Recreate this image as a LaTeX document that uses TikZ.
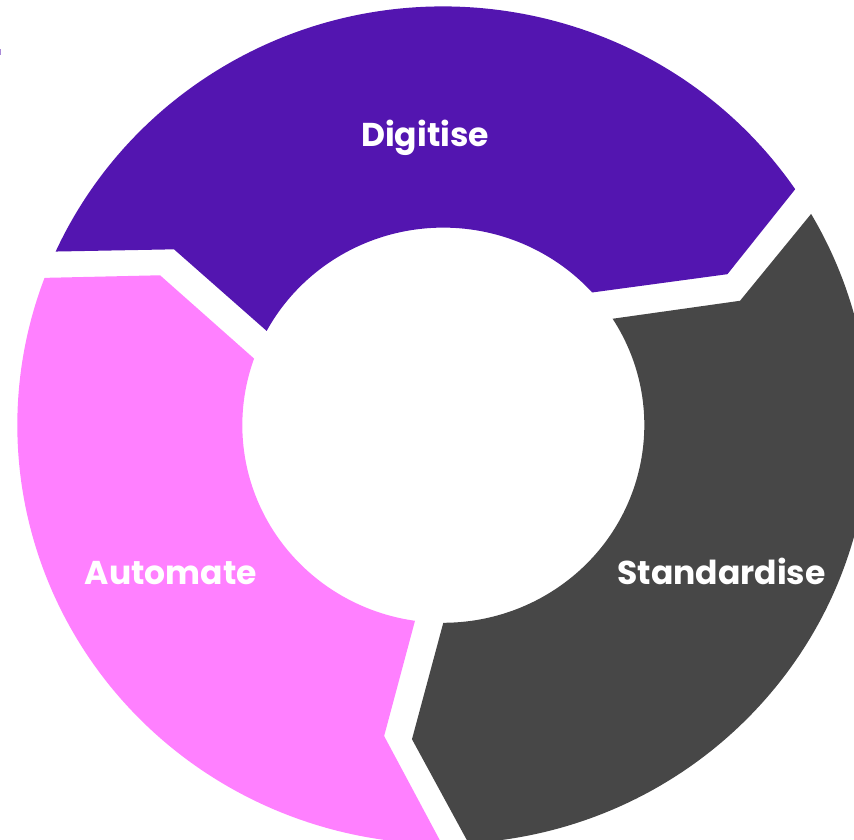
\documentclass[tikz,border=0pt]{standalone}
\usepackage{fontspec}
\setmainfont{Poppins}[UprightFont=* SemiBold, BoldFont=* Bold]
\definecolor{cyclepurple}{RGB}{83,21,176}
\definecolor{cyclepink}{RGB}{255,128,255}
\definecolor{cyclegray}{RGB}{71,71,71}
\tikzset{
  label text/.style={text=white, font=\bfseries\fontsize{33}{40}\selectfont, inner sep=0pt, anchor=base},
}
\begin{document}
\begin{tikzpicture}[x=1pt,y=1pt]
  \useasboundingbox (0,0) rectangle (854,840);
  % small mark at the left edge
  \fill[cyclepurple, opacity=0.5] (0,785) rectangle (1.3,791);
  % ring of three chevron segments
  \begin{scope}[shift={(443.3,414.8)}, yscale=0.983]
    % Digitise
    \fill[cyclepurple] (155.5:426) -- (146.4:323.3) -- (151.5:201)
      arc[start angle=151.5, end angle=42.2, radius=201]
      -- (28.4:323) -- (34.3:426)
      arc[start angle=34.3, end angle=155.5, radius=426] -- cycle;
    % Standardise
    \fill[cyclegray] (30.3:426) -- (23.1:322.6) -- (32.6:201)
      arc[start angle=32.6, end angle=-90, radius=201]
      -- (-95.6:321) -- (-86.6:426)
      arc[start angle=-86.6, end angle=30.3, radius=426] -- cycle;
    % Automate
    \fill[cyclepink] (-90.2:426) -- (-100.6:321.7) -- (-98.1:201)
      arc[start angle=-98.1, end angle=-199.7, radius=201]
      -- (-208.3:321.7) -- (-200.6:426)
      arc[start angle=-200.6, end angle=-90.2, radius=426] -- cycle;
  \end{scope}
  \node[label text] (digitise) at (425,693) {Digitise};
  \node[label text] (standardise) at (721.5,255) {Standardise};
  \node[label text] (automate) at (171,255) {Automate};
\end{tikzpicture}
\end{document}
